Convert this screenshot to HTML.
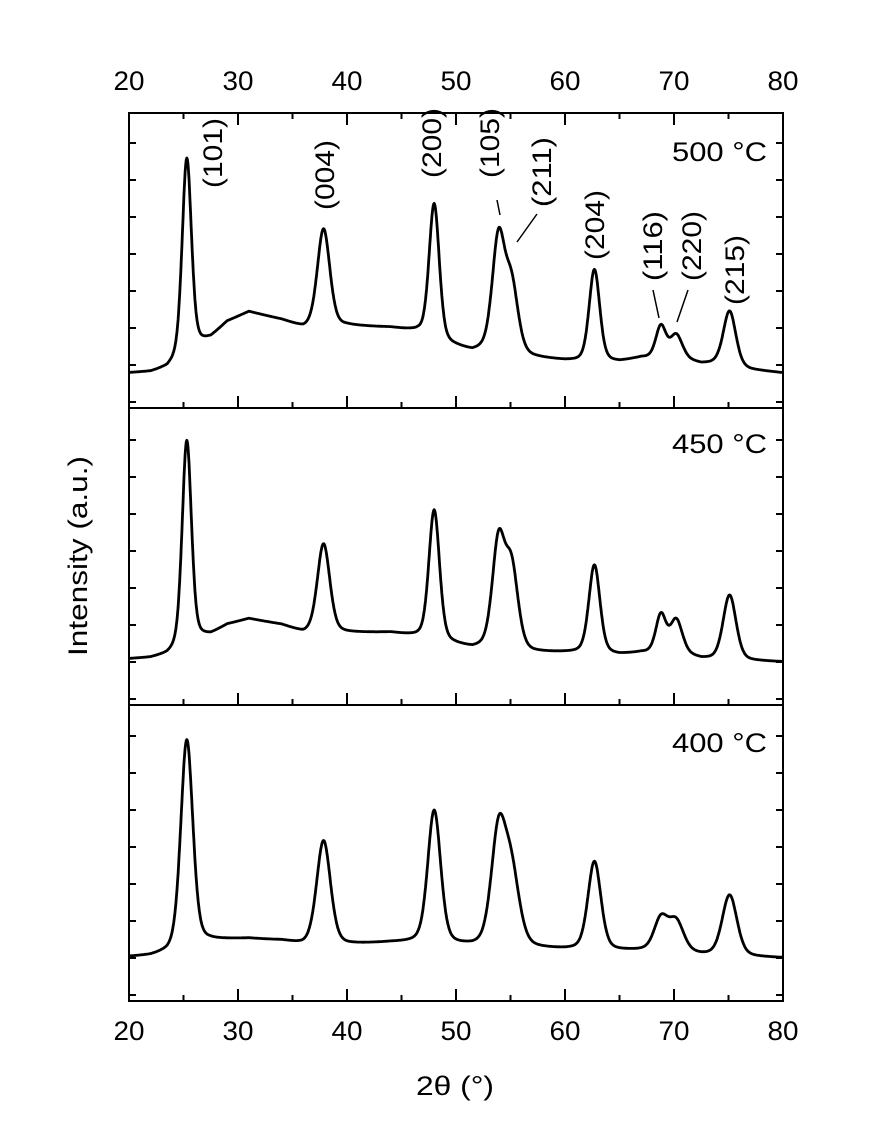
<!DOCTYPE html>
<html><head><meta charset="utf-8"><style>
html,body{margin:0;padding:0;background:#fff;}
svg{display:block;font-family:"Liberation Sans",Arial,sans-serif;}
</style></head><body>
<svg id="chart" width="878" height="1146" viewBox="0 0 878 1146" xmlns="http://www.w3.org/2000/svg">
<g id="frames"></g>
<g id="curves"></g>
<g id="labels" fill="#000"></g>
</svg>
<script>
// ---- data ----
const xTicks = [20, 30, 40, 50, 60, 70, 80];
const xMinorTicks = [25, 35, 45, 55, 65, 75];
const panelNames = ["500 °C", "450 °C", "400 °C"];
// background (2θ, intensity a.u.) per panel
const bgX = [20, 22, 23.5, 26, 27.5, 29, 31, 34, 36, 40, 44, 46.5, 49, 51.5, 53, 57, 60, 62, 65, 67, 71, 72.5, 74, 77, 80];
const bg500 = [35, 36, 40, 62, 70, 86, 96, 88, 80, 82, 80, 76, 64, 56, 58, 50, 47, 46, 46, 50, 48, 44, 44, 38, 35];
const bg450 = [46, 47, 50, 66, 70, 80, 86, 80, 72, 72, 72, 68, 62, 56, 57, 52, 52, 52, 50, 52, 50, 46, 45, 44, 43];
const bg400 = [44, 45, 48, 58, 60, 61, 62, 60, 56, 56, 58, 58, 56, 54, 54, 52, 51, 51, 50, 50, 48, 46, 45, 44, 43];
// peaks: positions, heights above background, widths (FWHM, °)
const peakPos = [25.3, 37.85, 48.0, 53.9, 55.1, 62.7, 68.8, 70.2, 75.1];
const peakH500 = [194, 98, 135, 112, 66, 92, 32, 24, 55];
const peakW500 = [1.0, 1.35, 1.1, 1.35, 1.4, 1.15, 1.1, 1.3, 1.35];
const peakH450 = [203, 89, 130, 105, 80, 88, 38, 34, 65];
const peakW450 = [1.0, 1.35, 1.15, 1.35, 1.4, 1.2, 1.1, 1.3, 1.4];
const peakH400 = [206, 104, 133, 111, 70, 88, 32, 30, 61];
const peakW400 = [1.3, 1.5, 1.4, 1.6, 1.7, 1.4, 1.5, 1.6, 1.6];
const peakLabels = ["(101)", "(004)", "(200)", "(105)", "(211)", "(204)", "(116)", "(220)", "(215)"];

// ---- layout ----
const X0 = 129, X1 = 783;
const panels = [{top:113, bot:408}, {top:408, bot:705}, {top:705, bot:1001}];
const NS = "http://www.w3.org/2000/svg";
const xs = v => X0 + (v - 20) / 60 * (X1 - X0);
function el(tag, attrs, parent){const e=document.createElementNS(NS,tag);for(const k in attrs)e.setAttribute(k,attrs[k]);parent.appendChild(e);return e;}
const frames = document.getElementById('frames');
const curves = document.getElementById('curves');
const labels = document.getElementById('labels');

function interp(xa, ya, x){
  for(let i=0;i<xa.length-1;i++){ if(x<=xa[i+1]){const t=(x-xa[i])/(xa[i+1]-xa[i]);return ya[i]+t*(ya[i+1]-ya[i]);} }
  return ya[ya.length-1];
}
function model(bg, H, W, x){
  let y = interp(bgX, bg, x);
  for(let i=0;i<peakPos.length;i++){
    const d=(x-peakPos[i])/(W[i]/2);
    y += H[i]*(0.7*Math.exp(-Math.LN2*d*d) + 0.3/(1+d*d));
  }
  return y;
}

// frame
const fr = el('rect',{x:X0,y:panels[0].top,width:X1-X0,height:panels[2].bot-panels[0].top,fill:'none',stroke:'#000','stroke-width':2},frames);


panels.forEach((p,pi)=>{
  if(pi>0){ const l=el('line',{x1:X0,x2:X1,y1:p.top,y2:p.top,stroke:'#000','stroke-width':2},frames);
      }
  xTicks.forEach(t=>{ const l=el('line',{x1:xs(t),x2:xs(t),y1:p.bot,y2:p.bot-12,stroke:'#000','stroke-width':2},frames);
      });
  xMinorTicks.forEach(t=>{ const l=el('line',{x1:xs(t),x2:xs(t),y1:p.bot,y2:p.bot-6,stroke:'#000','stroke-width':2},frames);
      });
  for(let k=0;k<8;k++){ const y=p.bot-6-37*k; if(y<p.top+4)continue;
    const a=el('line',{x1:X0,x2:X0+7,y1:y,y2:y,stroke:'#000','stroke-width':2},frames);
     
    const b=el('line',{x1:X1-7,x2:X1,y1:y,y2:y,stroke:'#000','stroke-width':2},frames);
      }
});
const tp=panels[0].top;
xTicks.forEach(t=>{ const l=el('line',{x1:xs(t),x2:xs(t),y1:tp,y2:tp+12,stroke:'#000','stroke-width':2},frames);
    });
xMinorTicks.forEach(t=>{ const l=el('line',{x1:xs(t),x2:xs(t),y1:tp,y2:tp+6,stroke:'#000','stroke-width':2},frames);
    });

// tick labels
xTicks.forEach(t=>{
  const a=el('text',{x:xs(t),y:90,'text-anchor':'middle','font-size':27,textLength:31,lengthAdjust:'spacingAndGlyphs'},labels); a.textContent=t;
   
  const b=el('text',{x:xs(t),y:1040,'text-anchor':'middle','font-size':27,textLength:31,lengthAdjust:'spacingAndGlyphs'},labels); b.textContent=t;
   
});

// curves
const sets=[[bg500,peakH500,peakW500],[bg450,peakH450,peakW450],[bg400,peakH400,peakW400]];
sets.forEach((s,pi)=>{
  const p=panels[pi]; let d='';
  for(let x=20;x<=80.001;x+=0.05){ const y=p.bot-model(s[0],s[1],s[2],x); d+=(d?'L':'M')+xs(x).toFixed(1)+','+y.toFixed(1); }
  const path=el('path',{d:d,fill:'none',stroke:'#000','stroke-width':2.8,'stroke-linejoin':'round'},curves);
  
  
  const t=el('text',{x:767,y:[161,453,752][pi],'text-anchor':'end','font-size':27,textLength:95,lengthAdjust:'spacingAndGlyphs'},labels); t.textContent=panelNames[pi];
   
});

// peak labels (rotated)
const lblX=[213,325,432,490,542,595,653,692,735];
const lblY=[153,175,143,143,172,225,246,246,270];
peakLabels.forEach((s,i)=>{
  const t=el('text',{x:lblX[i],y:lblY[i],'text-anchor':'middle','dominant-baseline':'central','font-size':27,textLength:70,lengthAdjust:'spacingAndGlyphs',transform:`rotate(-90 ${lblX[i]} ${lblY[i]})`},labels);
  t.textContent=s;
   
});
[[497,200,500,215],[537,214,517,242],[653,290,659,318],[688,290,677,322]].forEach(c=>{
  const l=el('line',{x1:c[0],y1:c[1],x2:c[2],y2:c[3],stroke:'#000','stroke-width':1.5},labels);
   
});

// axis titles
const yt=el('text',{x:87,y:556,'text-anchor':'middle','font-size':27,textLength:200,lengthAdjust:'spacingAndGlyphs',transform:'rotate(-90 87 556)'},labels);
yt.textContent='Intensity  (a.u.)';
 
const xt=el('text',{x:455,y:1095,'text-anchor':'middle','font-size':27,textLength:78,lengthAdjust:'spacingAndGlyphs'},labels);
xt.textContent='2θ (°)';
 
</script>
</body></html>
